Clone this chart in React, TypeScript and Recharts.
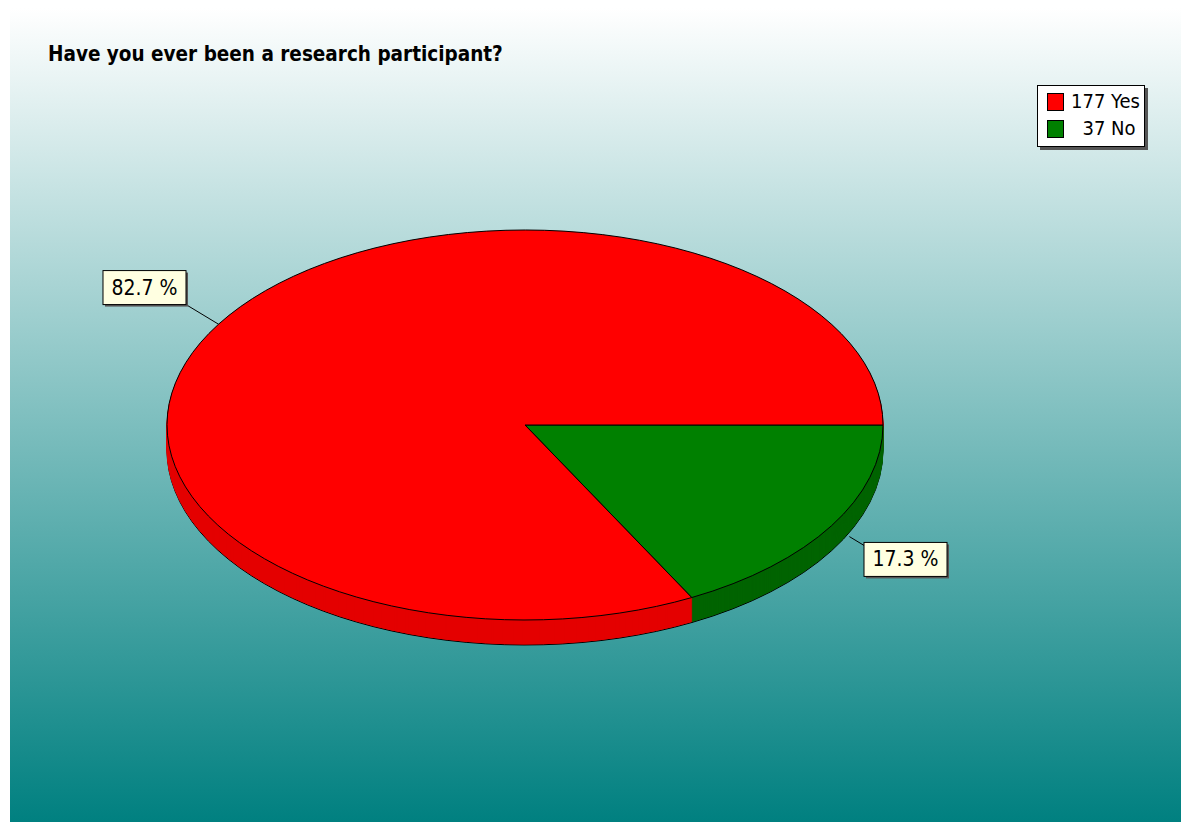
import React from 'react';
import { PieChart, Pie, Cell, Legend } from 'recharts';

// ---- data ----
const categories = ['No', 'Yes'];
const counts = [37, 177];
const legendOrder = ['Yes', 'No'];
const legendLabels = ['177 Yes', '\u200737 No'];
const title = 'Have you ever been a research participant?';

// ---- styling ----
const topColors: Record<string, string> = { Yes: '#ff0000', No: '#008000' };
const sideColors: Record<string, string> = { Yes: '#e40000', No: '#006400' };

const W = 1171;
const H = 814;
const CX = 515;
const CY = 417;
const R = 358;
const K = 195 / 358;
const DEPTH = 25;

const data = categories.map((name, i) => ({ name, value: counts[i] }));

const sideOffsets: number[] = [];
for (let d = DEPTH; d >= 1; d -= 1) sideOffsets.push(d);

const narrowFont = '"Liberation Sans Narrow", "DejaVu Sans Condensed", "Liberation Sans", Arial, sans-serif';

const renderLabel = (props: any) => {
  const { midAngle, percent } = props;
  const rad = Math.PI / 180;
  const c = Math.cos(-midAngle * rad);
  const s = Math.sin(-midAngle * rad);
  const x0 = CX + R * c;
  const y0 = CY + R * K * s;
  const x1 = x0 + 38 * c;
  const y1 = y0 + 38 * s;
  const w = 83;
  const h = 34;
  const bx = c < 0 ? x1 - w : x1;
  const by = s < 0 ? y1 - h : y1 - 3;
  const lx0 = s < 0 ? x0 : x0 + 0.55 * (x1 - x0);
  const ly0 = s < 0 ? y0 : y0 + 0.55 * (y1 - y0);
  const text = `${(percent * 100).toFixed(1)} %`;
  return (
    <g>
      <line x1={lx0} y1={ly0} x2={x1} y2={y1} stroke="#000" strokeWidth={1} />
      <rect x={bx + 2} y={by + 2} width={w} height={h} fill="#555" />
      <rect x={bx} y={by} width={w} height={h} fill="#ffffe1" stroke="#000" strokeWidth={1} />
      <text
        x={bx + w / 2}
        y={by + h / 2 + 1}
        textAnchor="middle"
        dominantBaseline="middle"
        fontFamily={narrowFont}
        fontSize={21}
        fill="#000"
      >
        {text}
      </text>
    </g>
  );
};

const LegendBox = () => (
  <div
    style={{
      position: 'relative',
      width: 106,
      height: 60,
      background: '#ffffff',
      border: '1px solid #000',
      boxShadow: '3px 3px 0 #555',
      fontFamily: narrowFont,
      fontSize: 20,
      color: '#000',
    }}
  >
    {legendOrder.map((name, i) => (
      <div
        key={name}
        style={{ position: 'absolute', left: 0, top: 6 + i * 27, height: 22, width: 106 }}
      >
        <div
          style={{
            position: 'absolute',
            left: 9,
            top: 1,
            width: 15,
            height: 16,
            background: topColors[name],
            border: '1px solid #000',
          }}
        />
        <div
          style={{
            position: 'absolute',
            left: 33,
            top: -2,
            lineHeight: '22px',
            whiteSpace: 'pre',
          }}
        >
          {legendLabels[i]}
        </div>
      </div>
    ))}
  </div>
);

const css = `
.ell path.recharts-sector {
  transform-box: view-box;
  transform-origin: ${CX}px ${CY}px;
  transform: scaleY(${K});
  vector-effect: non-scaling-stroke;
}
`;

export default function App() {
  return (
    <div
      style={{
        position: 'absolute',
        left: 10,
        top: 8,
        width: W,
        height: H,
        background: 'linear-gradient(to bottom, #ffffff 0%, #008080 100%)',
        overflow: 'hidden',
      }}
    >
      <style>{css}</style>
      <div
        style={{
          position: 'absolute',
          left: 38,
          top: 35,
          fontFamily: '"DejaVu Sans Condensed", "DejaVu Sans", sans-serif',
          fontWeight: 'bold',
          fontSize: 20.5,
          lineHeight: '22px',
          color: '#000',
          whiteSpace: 'nowrap',
          zIndex: 2,
        }}
      >
        {title}
      </div>
      <PieChart width={W} height={H} margin={{ top: 0, right: 0, bottom: 0, left: 0 }}>
        <Pie
          className="ell"
          data={data}
          dataKey="value"
          nameKey="name"
          cx={CX}
          cy={CY + DEPTH / K}
          outerRadius={R}
          startAngle={0}
          endAngle={-360}
          isAnimationActive={false}
          label={renderLabel}
          labelLine={false}
        >
          {data.map((d) => (
            <Cell key={d.name} fill={sideColors[d.name]} stroke="#000" strokeWidth={1} />
          ))}
        </Pie>
        {sideOffsets.slice(1).map((off) => (
          <Pie
            key={`side-${off}`}
            className="ell"
            data={data}
            dataKey="value"
            nameKey="name"
            cx={CX}
            cy={CY + off / K}
            outerRadius={R}
            startAngle={0}
            endAngle={-360}
            isAnimationActive={false}
            legendType="none"
          >
            {data.map((d) => (
              <Cell key={d.name} fill={sideColors[d.name]} stroke={sideColors[d.name]} strokeWidth={1} />
            ))}
          </Pie>
        ))}
        <Pie
          className="ell"
          data={data}
          dataKey="value"
          nameKey="name"
          cx={CX}
          cy={CY}
          outerRadius={R}
          startAngle={0}
          endAngle={-360}
          isAnimationActive={false}
          legendType="none"
        >
          {data.map((d) => (
            <Cell key={d.name} fill={topColors[d.name]} stroke="#000" strokeWidth={1} />
          ))}
        </Pie>
        <Legend
          content={() => <LegendBox />}
          wrapperStyle={{ position: 'absolute', left: 1027, top: 77, width: 112, height: 66 }}
        />
      </PieChart>
    </div>
  );
}
